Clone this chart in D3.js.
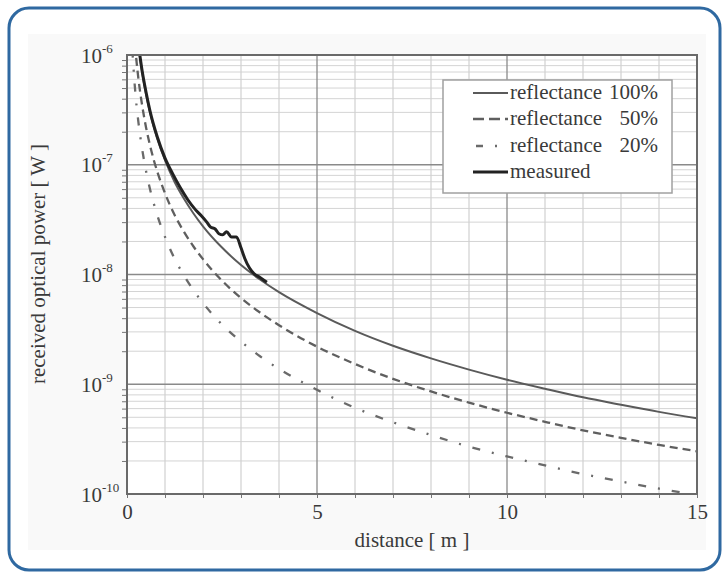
<!DOCTYPE html>
<html><head><meta charset="utf-8">
<script src="https://cdn.jsdelivr.net/npm/d3@7/dist/d3.min.js"></script>
<style>body{margin:0;background:#fff}svg{display:block}svg text{font-family:"Liberation Serif","DejaVu Serif","Times New Roman",serif}</style>
</head><body>
<svg id="chart" width="727" height="577"></svg>
<script>
// ---- data ----
const distances = [0.14,0.2,0.25,0.3,0.35,0.4,0.5,0.6,0.7,0.8,1,1.25,1.5,1.75,2,2.5,3,3.5,4,5,6,7,8,9,10,11,12,13,14,15];
const refl100 = [5.6e-6,2.75e-6,1.76e-6,1.22e-6,9.0e-7,6.9e-7,4.4e-7,3.06e-7,2.24e-7,1.72e-7,1.1e-7,7.0e-8,4.9e-8,3.6e-8,2.75e-8,1.76e-8,1.22e-8,9.0e-9,6.9e-9,4.45e-9,3.06e-9,2.24e-9,1.72e-9,1.36e-9,1.1e-9,9.1e-10,7.6e-10,6.5e-10,5.6e-10,4.9e-10];
const refl50 = [2.8e-6,1.38e-6,8.8e-7,6.1e-7,4.5e-7,3.45e-7,2.2e-7,1.53e-7,1.12e-7,8.6e-8,5.5e-8,3.5e-8,2.45e-8,1.8e-8,1.38e-8,8.8e-9,6.1e-9,4.5e-9,3.45e-9,2.2e-9,1.53e-9,1.12e-9,8.6e-10,6.8e-10,5.5e-10,4.55e-10,3.8e-10,3.25e-10,2.8e-10,2.45e-10];
const refl20 = [1.12e-6,5.5e-7,3.5e-7,2.45e-7,1.8e-7,1.38e-7,8.8e-8,6.1e-8,4.5e-8,3.45e-8,2.2e-8,1.4e-8,9.8e-9,7.2e-9,5.5e-9,3.5e-9,2.45e-9,1.8e-9,1.38e-9,8.9e-10,6.1e-10,4.5e-10,3.45e-10,2.7e-10,2.2e-10,1.82e-10,1.52e-10,1.3e-10,1.12e-10,9.8e-11];
const measuredDist = [0.3,0.4,0.5,0.6,0.8,1.0,1.2,1.4,1.6,1.8,1.95,2.1,2.2,2.32,2.42,2.52,2.62,2.75,2.88,3.0,3.1,3.22,3.34,3.5,3.68];
const measuredVal  = [1.25e-6,7.1e-7,4.6e-7,3.15e-7,1.78e-7,1.15e-7,8.3e-8,6.2e-8,4.8e-8,3.9e-8,3.45e-8,3.0e-8,2.7e-8,2.6e-8,2.35e-8,2.3e-8,2.45e-8,2.2e-8,2.2e-8,1.75e-8,1.4e-8,1.15e-8,1.02e-8,9.4e-9,8.5e-9];
const xTicks = [0,5,10,15];
const yTickExp = [-6,-7,-8,-9,-10];
const legendLabels = [["reflectance","100%"],["reflectance","50%"],["reflectance","20%"],["measured",""]];

// ---- layout ----
const svg = d3.select("#chart");
const L=127, R=697, T=55, B=494;
const x = d3.scaleLinear().domain([0,15]).range([L,R]);
const y = d3.scaleLog().domain([1e-10,1e-6]).range([B,T]);
const ink = "#3a3a3a";

// outer frame + tinted background
svg.append("rect").attr("x",28).attr("y",34).attr("width",678).attr("height",516).attr("fill","#f9f9f9");
svg.append("rect").attr("x",9).attr("y",8).attr("width",711).attr("height",562).attr("rx",20)
  .attr("fill","none").attr("stroke","#2f69a1").attr("stroke-width",3);

svg.append("rect").attr("x",L).attr("y",T).attr("width",R-L).attr("height",B-T).attr("fill","#fff");

// grid
const g = svg.append("g");
const minorY=[], majorY=[-9,-8,-7].map(e=>Math.pow(10,e));
for (let e=-10;e<-6;e++) for (let m=2;m<=9;m++) minorY.push(m*Math.pow(10,e));
g.selectAll(".hmin").data(minorY).join("line").attr("x1",L).attr("x2",R)
  .attr("y1",d=>y(d)).attr("y2",d=>y(d)).attr("stroke","#d4d4d4").attr("stroke-width",1);
const minorX = d3.range(1,15).filter(d=>d%5!==0);
g.selectAll(".vmin").data(minorX).join("line").attr("y1",T).attr("y2",B)
  .attr("x1",d=>x(d)).attr("x2",d=>x(d)).attr("stroke","#d0d0d0").attr("stroke-width",1.2);
g.selectAll(".hmaj").data(majorY).join("line").attr("x1",L).attr("x2",R)
  .attr("y1",d=>y(d)).attr("y2",d=>y(d)).attr("stroke","#8a8a8a").attr("stroke-width",1.3);
g.selectAll(".vmaj").data([5,10]).join("line").attr("y1",T).attr("y2",B)
  .attr("x1",d=>x(d)).attr("x2",d=>x(d)).attr("stroke","#8a8a8a").attr("stroke-width",1.3);

// axes ticks
const yMinorAxis = svg.append("g").attr("transform",`translate(${L},0)`)
  .call(d3.axisLeft(y).tickValues(minorY).tickSize(5).tickFormat(""));
const xMinorAxis = svg.append("g").attr("transform",`translate(0,${B})`)
  .call(d3.axisBottom(x).tickValues(d3.range(0,16)).tickSize(4).tickFormat(""));
[yMinorAxis,xMinorAxis].forEach(a=>{a.select(".domain").remove();a.selectAll("line").attr("stroke","#777");});

const xAxis = svg.append("g").attr("transform",`translate(0,${B})`)
  .call(d3.axisBottom(x).tickValues(xTicks).tickSize(0).tickPadding(10).tickFormat(d3.format("d")));
xAxis.select(".domain").remove();
xAxis.attr("font-family",null).attr("font-size",null);
xAxis.selectAll("text").attr("font-size",21).attr("fill",ink).attr("dy","0.71em");

const yAxis = svg.append("g").attr("transform",`translate(${L},0)`)
  .call(d3.axisLeft(y).tickValues(yTickExp.map(e=>Math.pow(10,e))).tickSize(0).tickFormat(""));
yAxis.select(".domain").remove();
yAxis.attr("font-family",null).attr("font-size",null);
yAxis.selectAll(".tick").each(function(d){
  const e = Math.round(Math.log10(d));
  const t = d3.select(this).append("text").attr("x",81-L).attr("y",7).attr("text-anchor","start")
    .attr("font-size",21).attr("fill",ink);
  t.append("tspan").text("10");
  t.append("tspan").attr("font-size",13).attr("dy",-10).text(String(e));
});

// curves
const clip = svg.append("clipPath").attr("id","clip").append("rect")
  .attr("x",L).attr("y",T).attr("width",R-L).attr("height",B-T);
const line = d3.line().x(d=>x(d[0])).y(d=>y(d[1])).curve(d3.curveMonotoneX);
const curves = svg.append("g").attr("clip-path","url(#clip)");
const series = [
  {v:refl100, d:distances, dash:null, w:2, c:"#5a5a5a"},
  {v:refl50, d:distances, dash:"8,5", w:2.3, c:"#5f5f5f"},
  {v:refl20, d:distances, dash:"8,12,2,12", w:2.3, c:"#6a6a6a"},
  {v:measuredVal, d:measuredDist, dash:null, w:3, c:"#222"}
];
series.forEach(s=>{
  curves.append("path").datum(s.d.map((dd,i)=>[dd,s.v[i]])).attr("d",line)
    .attr("fill","none").attr("stroke",s.c).attr("stroke-width",s.w)
    .attr("stroke-dasharray",s.dash);
});

// frame
svg.append("rect").attr("x",L).attr("y",T).attr("width",R-L).attr("height",B-T)
  .attr("fill","none").attr("stroke","#6a6a6a").attr("stroke-width",2);

// legend
const lg = svg.append("g");
lg.append("rect").attr("x",443).attr("y",80).attr("width",229).attr("height",113)
  .attr("fill","#fff").attr("stroke","#a0a0a0").attr("stroke-width",1.5);
const rowsY = [93,119,146,172];
legendLabels.forEach((lab,i)=>{
  const s = series[i];
  lg.append("line").attr("x1",i===2?476:473).attr("x2",508).attr("y1",rowsY[i]).attr("y2",rowsY[i])
    .attr("stroke",s.c).attr("stroke-width",s.w).attr("stroke-dasharray", i===1?"11,5": i===2?"7,12,2,12":null);
  lg.append("text").attr("x",510).attr("y",rowsY[i]+6).attr("font-size",21)
    .attr("fill",ink).text(lab[0]);
  if (lab[1]) lg.append("text").attr("x",658).attr("y",rowsY[i]+6).attr("text-anchor","end")
    .attr("font-size",21).attr("fill",ink).text(lab[1]);
});

// axis titles
svg.append("text").attr("x",(L+R)/2).attr("y",547).attr("text-anchor","middle")
  .attr("font-size",21).attr("fill",ink).text("distance [ m ]");
svg.append("text").attr("transform",`translate(45,264) rotate(-90)`).attr("text-anchor","middle")
  .attr("font-size",21).attr("fill",ink).text("received optical power [ W ]");
</script>
</body></html>
